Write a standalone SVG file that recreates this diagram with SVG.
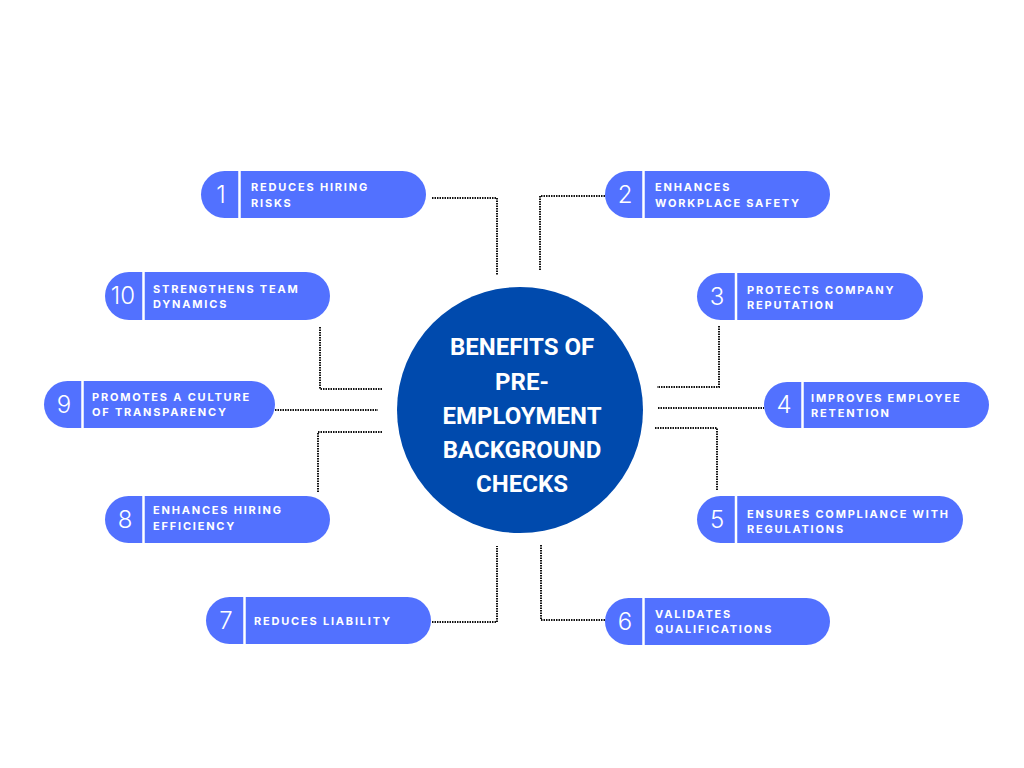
<svg xmlns="http://www.w3.org/2000/svg" width="1024" height="768" viewBox="0 0 1024 768">
<style>
.pill{fill:#5271ff}
.div{stroke:#fff;stroke-width:2.5}
.num{font-family:Inter,"Liberation Sans",sans-serif;font-size:24px;font-weight:300;fill:#fff;text-anchor:middle}
.lbl{font-family:Inter,"Liberation Sans",sans-serif;font-size:11px;font-weight:700;fill:#fff;letter-spacing:1.8px}
.con{fill:none;stroke:#111;stroke-width:2;stroke-dasharray:1.5 1}
.title{font-family:Roboto,"Liberation Sans",sans-serif;font-size:24px;font-weight:700;fill:#fff;text-anchor:middle}
</style>
<rect width="1024" height="768" fill="#fff"/>
<g id="connectors">
<polyline class="con" points="432,198 497,198 497,275"/>
<polyline class="con" points="605,196 540,196 540,271"/>
<polyline class="con" points="320,327 320,389 383,389"/>
<polyline class="con" points="275,410 378,410"/>
<polyline class="con" points="382,432 318,432 318,492"/>
<polyline class="con" points="432,622 497,622 497,546"/>
<polyline class="con" points="605,620 541,620 541,545"/>
<polyline class="con" points="719,326 719,387 657,387"/>
<polyline class="con" points="658,408 764,408"/>
<polyline class="con" points="655,428 717,428 717,490"/>
</g>
<g id="center">
<circle cx="520" cy="410" r="123" fill="#004aad"/>
<text class="title" x="522" y="355">BENEFITS OF</text>
<text class="title" x="522" y="390">PRE-</text>
<text class="title" x="522" y="424">EMPLOYMENT</text>
<text class="title" x="522" y="458">BACKGROUND</text>
<text class="title" x="522" y="492">CHECKS</text>
</g>
<g id="node1">
<rect class="pill" x="201" y="171" width="225" height="47" rx="23.5"/>
<line class="div" x1="239.5" y1="171" x2="239.5" y2="218"/>
<text class="num" x="221" y="203">1</text>
<text class="lbl" x="251" y="191">REDUCES HIRING</text>
<text class="lbl" x="251" y="207">RISKS</text>
</g>
<g id="node2">
<rect class="pill" x="605" y="171" width="225" height="47" rx="23.5"/>
<line class="div" x1="643.5" y1="171" x2="643.5" y2="218"/>
<text class="num" x="625" y="203">2</text>
<text class="lbl" x="655" y="191">ENHANCES</text>
<text class="lbl" x="655" y="207">WORKPLACE SAFETY</text>
</g>
<g id="node3">
<rect class="pill" x="697" y="273" width="226" height="47" rx="23.5"/>
<line class="div" x1="736" y1="273" x2="736" y2="320"/>
<text class="num" x="717" y="305">3</text>
<text class="lbl" x="747" y="294">PROTECTS COMPANY</text>
<text class="lbl" x="747" y="309">REPUTATION</text>
</g>
<g id="node4">
<rect class="pill" x="764" y="382" width="225" height="46" rx="23"/>
<line class="div" x1="802.5" y1="382" x2="802.5" y2="428"/>
<text class="num" x="784" y="413">4</text>
<text class="lbl" x="811" y="402">IMPROVES EMPLOYEE</text>
<text class="lbl" x="811" y="417">RETENTION</text>
</g>
<g id="node5">
<rect class="pill" x="697" y="496" width="266" height="47" rx="23.5"/>
<line class="div" x1="736" y1="496" x2="736" y2="543"/>
<text class="num" x="717" y="528">5</text>
<text class="lbl" x="747" y="518">ENSURES COMPLIANCE WITH</text>
<text class="lbl" x="747" y="533">REGULATIONS</text>
</g>
<g id="node6">
<rect class="pill" x="605" y="598" width="225" height="47" rx="23.5"/>
<line class="div" x1="643.5" y1="598" x2="643.5" y2="645"/>
<text class="num" x="625" y="630">6</text>
<text class="lbl" x="655" y="618">VALIDATES</text>
<text class="lbl" x="655" y="633">QUALIFICATIONS</text>
</g>
<g id="node7">
<rect class="pill" x="206" y="597" width="225" height="47" rx="23.5"/>
<line class="div" x1="244.5" y1="597" x2="244.5" y2="644"/>
<text class="num" x="226" y="629">7</text>
<text class="lbl" x="254" y="625">REDUCES LIABILITY</text>
</g>
<g id="node8">
<rect class="pill" x="105" y="496" width="225" height="47" rx="23.5"/>
<line class="div" x1="143.5" y1="496" x2="143.5" y2="543"/>
<text class="num" x="125" y="528">8</text>
<text class="lbl" x="153" y="514">ENHANCES HIRING</text>
<text class="lbl" x="153" y="530">EFFICIENCY</text>
</g>
<g id="node9">
<rect class="pill" x="44" y="381" width="231" height="47" rx="23.5"/>
<line class="div" x1="82.5" y1="381" x2="82.5" y2="428"/>
<text class="num" x="64" y="413">9</text>
<text class="lbl" x="92" y="401">PROMOTES A CULTURE</text>
<text class="lbl" x="92" y="416">OF TRANSPARENCY</text>
</g>
<g id="node10">
<rect class="pill" x="105" y="272" width="225" height="48" rx="24"/>
<line class="div" x1="143.5" y1="272" x2="143.5" y2="320"/>
<text class="num" x="123" y="304">10</text>
<text class="lbl" x="153" y="293">STRENGTHENS TEAM</text>
<text class="lbl" x="153" y="308">DYNAMICS</text>
</g>
</svg>
